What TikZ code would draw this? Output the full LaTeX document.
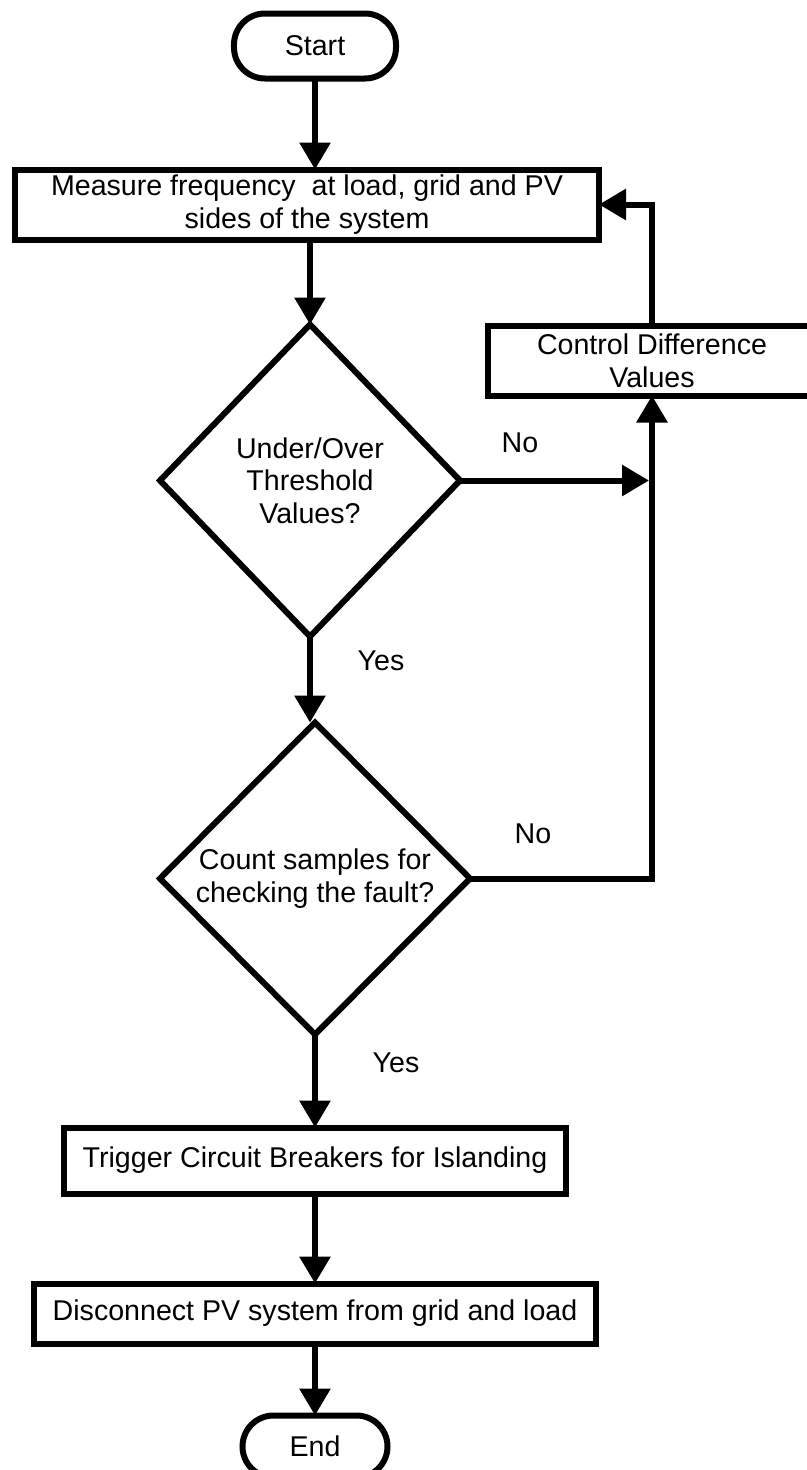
\documentclass[tikz,border=0pt]{standalone}
\usepackage{fontspec}
\setmainfont{Liberation Sans}
\usetikzlibrary{shapes.geometric, arrows.meta, positioning}

\begin{document}
\begin{tikzpicture}[
    node distance=90pt,
    base/.style={draw, line width=6pt, outer sep=0pt, inner sep=0pt, align=center, font=\fontsize{28.6}{32.6}\selectfont},
    term/.style={base, rectangle, rounded corners=31pt},
    proc/.style={base, rectangle},
    decision/.style={base, diamond, minimum width=300pt, minimum height=312pt},
    lbl/.style={font=\fontsize{28.6}{32.6}\selectfont},
    arrow/.style={-{Triangle[length=27pt, width=30pt]}, line width=6pt}
]
\useasboundingbox (-315pt,46pt) rectangle (491pt,-1424pt);

\node[term, minimum width=162pt, minimum height=65pt] (start) {Start};
\node[proc, minimum width=584pt, minimum height=70pt, below=91pt of start, xshift=-8pt] (measure) {Measure frequency\ \ at load, grid and PV\\sides of the system};
\node[decision, below=85pt of measure, xshift=3pt] (d1) {Under/Over\\Threshold\\Values?};
\node[decision, minimum width=310pt, below=86pt of d1, xshift=5pt] (d2) {Count samples for\\checking the fault?};
\node[proc, minimum width=502pt, minimum height=66pt, below=93pt of d2] (trigger) {Trigger Circuit Breakers for Islanding};
\node[proc, minimum width=562pt, minimum height=60pt, below=90pt of trigger] (disconnect) {Disconnect PV system from grid and load};
\node[term, minimum width=145pt, minimum height=62pt, below=72pt of disconnect] (end) {End};
\node[proc, minimum width=328pt, minimum height=70pt, anchor=west] (control) at ([shift={(28pt,120pt)}]d1.east) {Control Difference\\Values};

\node[lbl] (no1) at ([shift={(60pt,38pt)}]d1.east) {No};
\node[lbl] (no2) at ([shift={(63pt,45pt)}]d2.east) {No};
\node[lbl] (yes1) at ([shift={(71pt,-24pt)}]d1.south) {Yes};
\node[lbl] (yes2) at ([shift={(81pt,-28pt)}]d2.south) {Yes};

% main flow
\draw[arrow] (start.south) -- (start.south |- measure.north);
\draw[arrow] (d1.north |- measure.south) -- (d1.north);
\draw[arrow] (d1.south) -- (d1.south |- d2.north);
\draw[arrow] (d2.south) -- (d2.south |- trigger.north);
\draw[arrow] (trigger.south) -- (trigger.south |- disconnect.north);
\draw[arrow] (disconnect.south) -- (disconnect.south |- end.north);

% feedback loop
\draw[arrow, shorten >=3pt] (d1.east) -- (d1.east -| control.south);
\draw[arrow] (d2.east) -| (control.south);
\draw[arrow] (control.north) |- (measure.east);

\end{tikzpicture}
\end{document}
